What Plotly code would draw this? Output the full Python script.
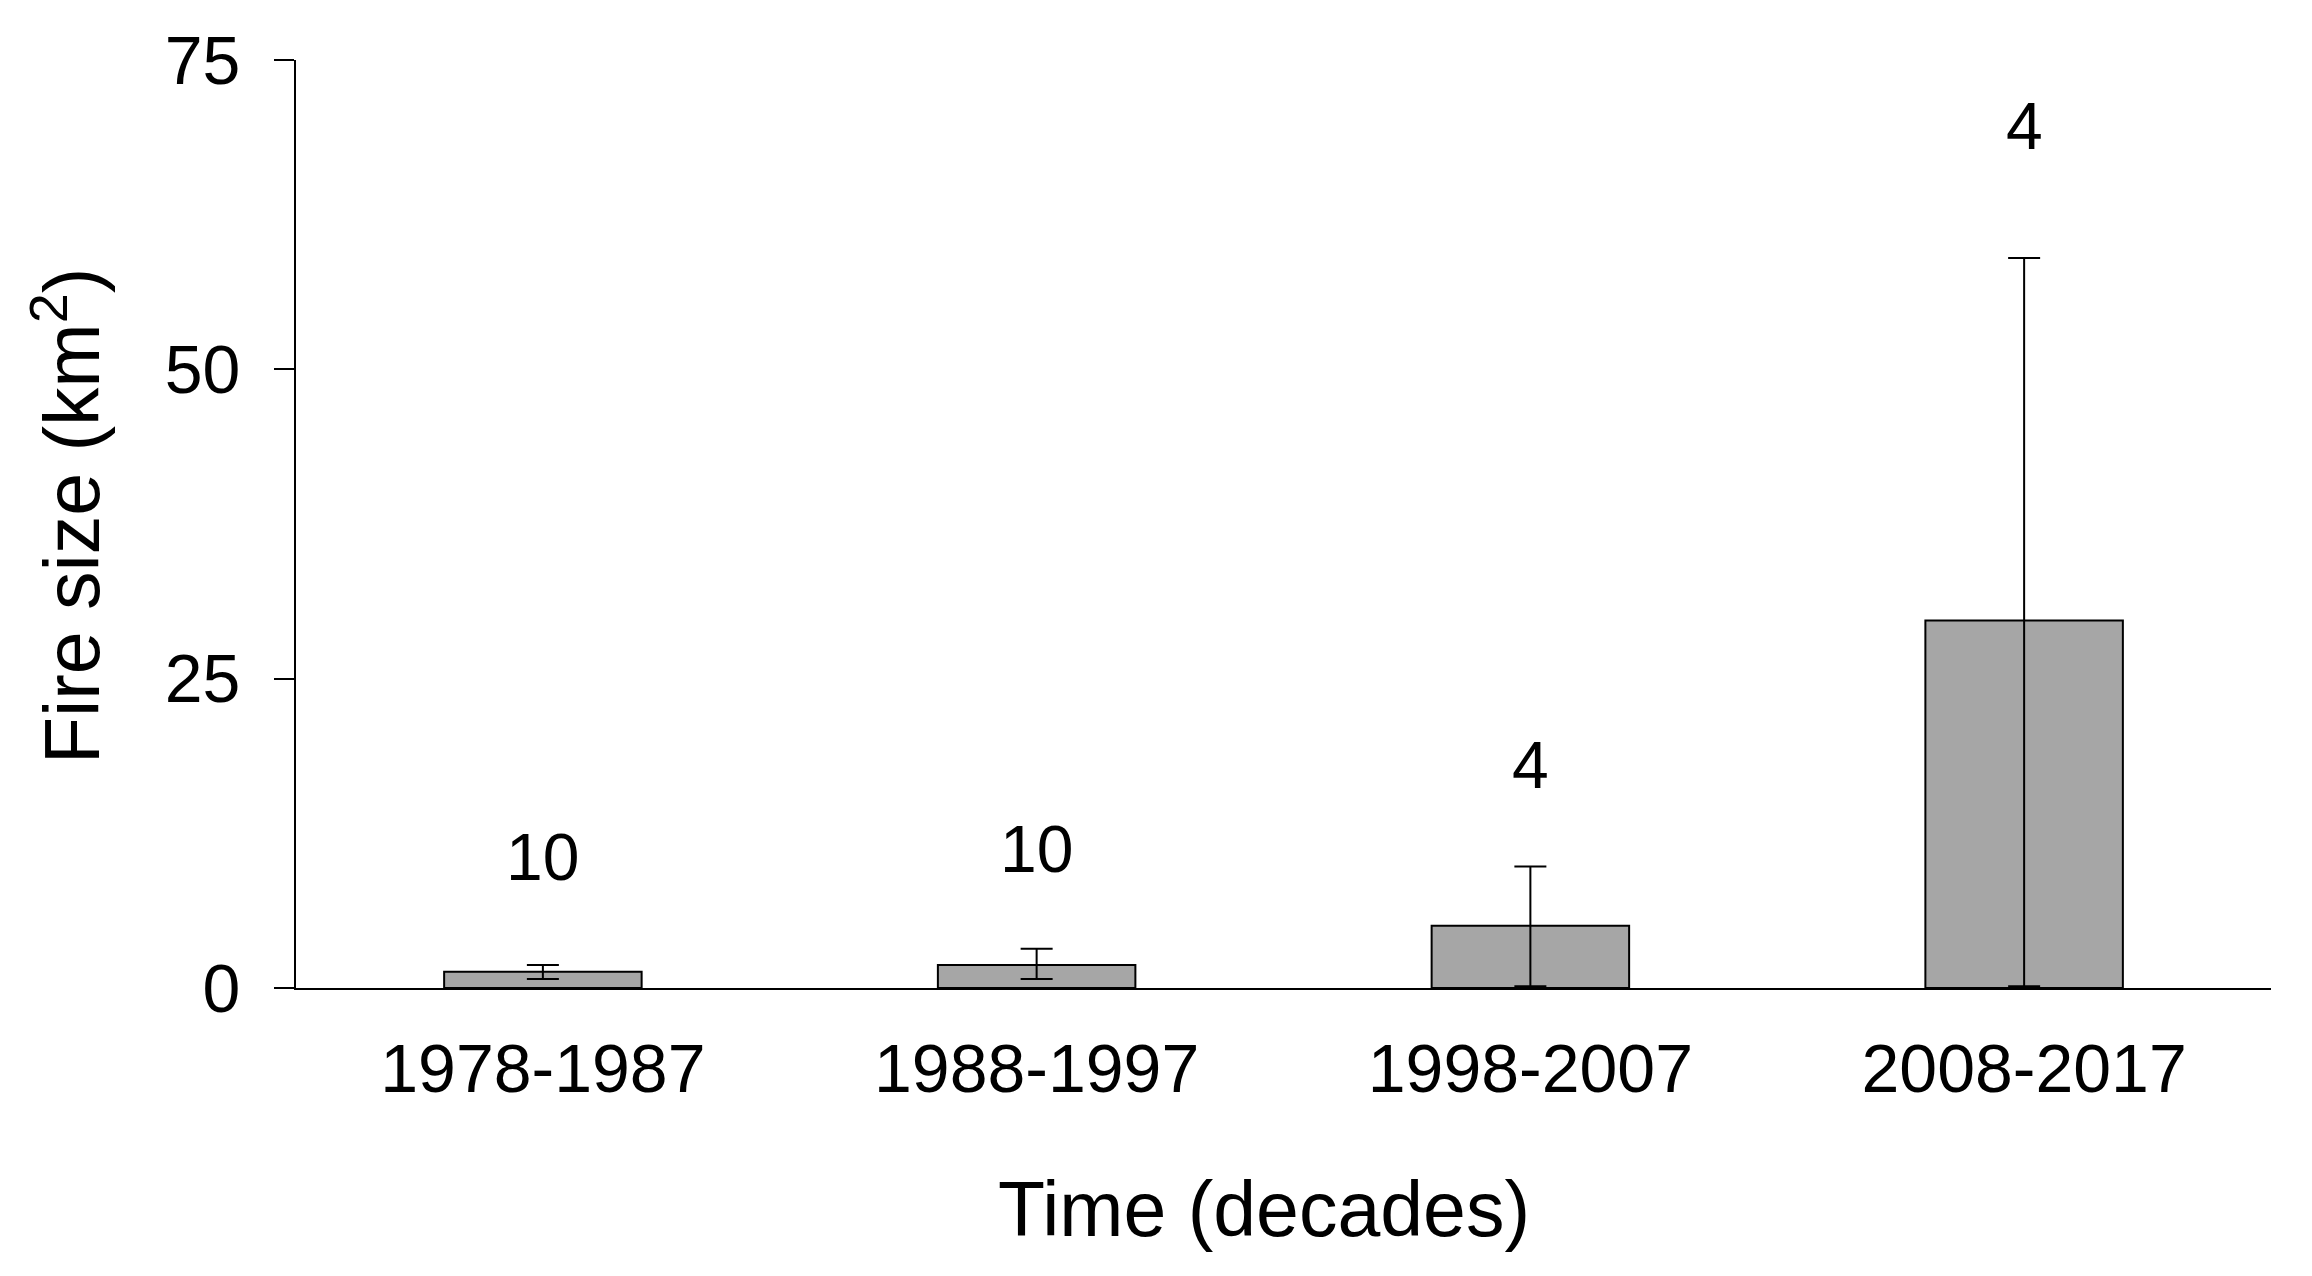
import plotly.graph_objects as go

categories = ["1978-1987", "1988-1997", "1998-2007", "2008-2017"]
mean_size = [1.32, 1.86, 5.04, 29.7]
err_plus = [0.54, 1.32, 4.78, 29.3]
err_minus = [0.59, 1.13, 4.9, 29.55]
n_labels = ["10", "10", "4", "4"]
label_y = [10.6, 11.2, 18.0, 69.7]
y_ticks = [0, 25, 50, 75]

FONT = "Liberation Sans, Arial, sans-serif"

fig = go.Figure()
fig.add_trace(go.Bar(
    x=list(range(len(categories))),
    y=mean_size,
    width=0.40,
    marker=dict(color="#a6a6a6", line=dict(color="#000000", width=2)),
    error_y=dict(type="data", symmetric=False, array=err_plus, arrayminus=err_minus,
                 color="#000000", thickness=2, width=16),
    showlegend=False,
))

for i, (t, yv) in enumerate(zip(n_labels, label_y)):
    fig.add_annotation(x=i, y=yv, text=t, showarrow=False,
                       font=dict(family=FONT, size=66, color="#000000"))

# axis titles
fig.add_annotation(xref="paper", yref="paper", x=0.490, y=-0.238,
                   xanchor="center", yanchor="middle", showarrow=False,
                   text="Time (decades)", font=dict(family=FONT, size=77, color="#000000"))
fig.add_annotation(xref="paper", yref="paper", x=-0.1165, y=0.5086,
                   xanchor="center", yanchor="middle", showarrow=False, textangle=-90,
                   text="Fire size (km<sup>2</sup>)", font=dict(family=FONT, size=77, color="#000000"))

fig.update_layout(
    width=2312, height=1276,
    margin=dict(l=288, r=49, t=52, b=296),
    plot_bgcolor="white", paper_bgcolor="white",
    font=dict(family=FONT, color="#000000"),
    bargap=0.6,
)
fig.update_xaxes(
    range=[-0.5, 3.5],
    tickmode="array", tickvals=list(range(len(categories))), ticktext=categories,
    tickfont=dict(size=68), ticks="", ticklabelstandoff=20,
    showline=True, linecolor="#000000", linewidth=2,
    showgrid=False, zeroline=False,
)
fig.update_yaxes(
    range=[0, 75],
    tickmode="array", tickvals=y_ticks,
    tickfont=dict(size=68), ticks="outside", ticklen=20, tickwidth=2, tickcolor="#000000",
    ticklabelstandoff=20,
    showline=True, linecolor="#000000", linewidth=2,
    showgrid=False, zeroline=False,
)

fig.write_html("out.html")
